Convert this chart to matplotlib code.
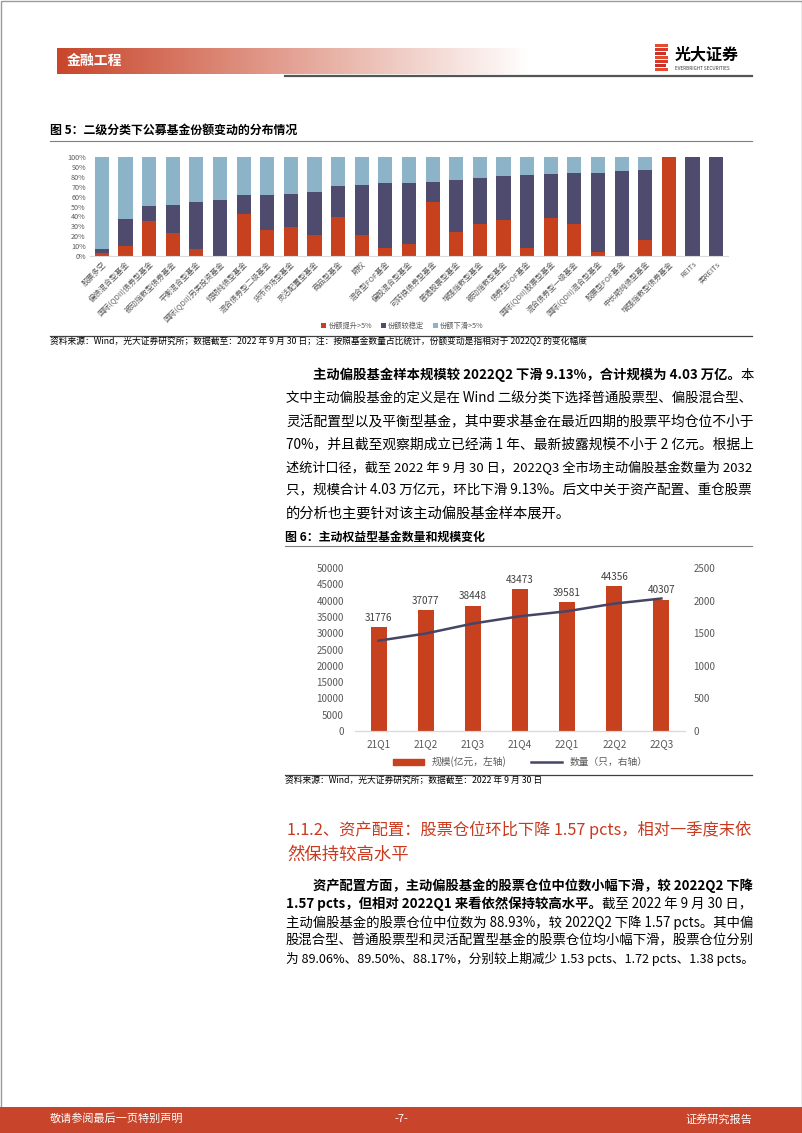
import numpy as np
import matplotlib
matplotlib.use("Agg")
import matplotlib.pyplot as plt
from matplotlib.patches import Rectangle
from matplotlib.lines import Line2D

plt.rcParams['font.family'] = ['Noto Sans CJK SC', 'DejaVu Sans']

# ---- data: figure 5 ----
cats5 = ["股票多空", "偏债混合型基金", "国际(QDII)债券型基金", "被动指数型债券基金", "平衡混合型基金",
         "国际(QDII)另类投资基金", "短期纯债型基金", "混合债券型二级基金", "货币市场型基金", "灵活配置型基金",
         "商品型基金", "期权", "混合型FOF基金", "偏股混合型基金", "可转换债券型基金", "普通股票型基金",
         "增强指数型基金", "被动指数型基金", "债券型FOF基金", "国际(QDII)股票型基金", "混合债券型一级基金",
         "国际(QDII)混合型基金", "股票型FOF基金", "中长期纯债型基金", "增强指数型债券基金", "REITs", "类REITs"]
up5 = [3.4, 10.5, 35, 23, 7, 0, 42, 26, 29, 21, 39, 21.5, 8.4, 12.5, 55, 24.7,
       32.4, 36, 8.4, 38.5, 32.4, 4, 0, 16, 100, 0, 0]
stable5 = [3.6, 27, 16, 29, 48, 57, 20, 36, 34, 43.5, 31.6, 50.5, 64.9, 61.5, 20, 52.3,
           46.3, 45, 73, 43.9, 51, 80, 85.5, 70.8, 0, 100, 100]
down5 = [93, 62.5, 49, 48, 45, 43, 38, 38, 37, 35.5, 29.4, 28, 26.7, 26, 25, 23,
         21.3, 19, 18.6, 17.6, 16.6, 16, 14.5, 13.2, 0, 0, 0]
leg5 = ["份额提升>5%", "份额较稳定", "份额下滑>5%"]

# ---- data: figure 6 ----
quarters = ["21Q1", "21Q2", "21Q3", "21Q4", "22Q1", "22Q2", "22Q3"]
scale6 = [31776, 37077, 38448, 43473, 39581, 44356, 40307]
count6 = [1385, 1495, 1648, 1760, 1837, 1954, 2032]

RED = "#C8411F"
NAVY = "#4F4B6E"
LIGHT = "#8DB3C9"
GREY = "#595959"

W, H = 802, 1133
fig = plt.figure(figsize=(W / 100, H / 100), dpi=100)
bg = fig.add_axes([0, 0, 1, 1])
bg.set_xlim(0, W); bg.set_ylim(H, 0); bg.axis("off")
r = fig.canvas.get_renderer()

def ax_px(x0, y0, x1, y1):
    return fig.add_axes([x0 / W, 1 - y1 / H, (x1 - x0) / W, (y1 - y0) / H])

def put_line(x0, y, segs, width=None, fs=10.3, color="black"):
    ts = [bg.text(x0, y, s, fontsize=fs, fontweight=w, color=color, va="center", ha="left")
          for s, w in segs]
    tot = sum(t.get_window_extent(r).width for t in ts)
    if width:
        for t in ts:
            t.set_fontsize(fs * width / tot)
    x = x0
    for t in ts:
        t.set_x(x)
        x += t.get_window_extent(r).width

# page frame
bg.add_patch(Rectangle((0.5, 0.5), W - 1, H - 1, fill=False, ec="#9A9A9A", lw=1))

# header band with gradient
grad = np.ones((1, 256, 4))
c0 = np.array(matplotlib.colors.to_rgb("#C8462B"))
t = np.linspace(0, 1, 256)
grad[0, :, :3] = c0 * (1 - t)[:, None] + t[:, None]
grad[0, :, 3] = 1
bg.imshow(grad, extent=[57, 530, 74, 48], aspect="auto", zorder=1)
bg.set_xlim(0, W); bg.set_ylim(H, 0)
bg.text(67, 61, "金融工程", fontsize=10, color="white", fontweight="bold", va="center")
bg.plot([285, 752], [76, 76], color="#555555", lw=1.6)
# logo
for i, (yy, ww) in enumerate([(44, 13), (48, 13), (52, 11), (56, 13), (60, 13), (64, 11), (68, 13)]):
    bg.add_patch(Rectangle((655, yy), ww, 3.2, color=["#E84A2E", "#D93A2A", "#C9302A"][i % 3], lw=0))
bg.text(675, 54, "光大证券", fontsize=11.5, fontweight="bold", va="center")
bg.text(675, 68, "EVERBRIGHT SECURITIES", fontsize=3.3, va="center", color="#333333")

# ---- Figure 5 ----
bg.text(50, 130, "图 5：二级分类下公募基金份额变动的分布情况", fontsize=8.6, fontweight="bold", va="center")
bg.plot([50, 752], [141, 141], color="#7F7F7F", lw=0.8)
ax1 = ax_px(90, 157, 728, 256)
x = np.arange(len(cats5))
up = np.array(up5); st = np.array(stable5); dn = np.array(down5)
ax1.bar(x, up, 0.6, color=RED, label=leg5[0])
ax1.bar(x, st, 0.6, bottom=up, color=NAVY, label=leg5[1])
ax1.bar(x, dn, 0.6, bottom=up + st, color=LIGHT, label=leg5[2])
ax1.set_xlim(-0.5, len(cats5) - 0.5)
ax1.set_ylim(0, 100)
ax1.set_yticks(np.arange(0, 101, 10))
ax1.set_yticklabels([f"{v}%" for v in range(0, 101, 10)], fontsize=5.2, color=GREY)
ax1.set_xticks(x)
ax1.set_xticklabels(cats5, rotation=45, ha="right", rotation_mode="anchor", fontsize=5.5, color=GREY)
ax1.tick_params(length=0, pad=3)
for s in ["top", "right", "left"]:
    ax1.spines[s].set_visible(False)
ax1.spines["bottom"].set_color("#D9D9D9")
ax1.legend(loc="center", bbox_to_anchor=(0.49, -0.71), ncol=3, fontsize=5.2, frameon=False,
           handlelength=0.7, handleheight=0.7, handletextpad=0.3, columnspacing=1.2, labelcolor=GREY)
bg.plot([50, 752], [336, 336], color="#404040", lw=0.9)
bg.text(50, 341, "资料来源：Wind，光大证券研究所；数据截至：2022 年 9 月 30 日；注：按照基金数量占比统计，份额变动是指相对于 2022Q2 的变化幅度",
        fontsize=6.3, va="center")

# ---- paragraph 1 ----
R = 752
p1 = [
    (313, [("主动偏股基金样本规模较 2022Q2 下滑 9.13%，合计规模为 4.03 万亿。", "bold"), ("本", "normal")], True),
    (286, [("文中主动偏股基金的定义是在 Wind 二级分类下选择普通股票型、偏股混合型、", "normal")], True),
    (286, [("灵活配置型以及平衡型基金，其中要求基金在最近四期的股票平均仓位不小于", "normal")], True),
    (286, [("70%，并且截至观察期成立已经满 1 年、最新披露规模不小于 2 亿元。根据上", "normal")], True),
    (286, [("述统计口径，截至 2022 年 9 月 30 日，2022Q3 全市场主动偏股基金数量为 2032", "normal")], True),
    (286, [("只，规模合计 4.03 万亿元，环比下滑 9.13%。后文中关于资产配置、重仓股票", "normal")], True),
    (286, [("的分析也主要针对该主动偏股基金样本展开。", "normal")], False),
]
for i, (x0, segs, just) in enumerate(p1):
    put_line(x0, 375 + i * 23.1, segs, width=(R - x0) if just else None)

# ---- Figure 6 ----
bg.text(285, 537, "图 6：主动权益型基金数量和规模变化", fontsize=8.6, fontweight="bold", va="center")
bg.plot([285, 752], [546, 546], color="#7F7F7F", lw=0.8)
ax2 = ax_px(355, 568, 685, 731)
xq = np.arange(len(quarters))
ax2.bar(xq, scale6, 0.34, color=RED, label="规模(亿元，左轴)")
for xi, v in zip(xq, scale6):
    ax2.text(xi, v + 1300, str(v), ha="center", va="bottom", fontsize=7.2, color="#404040")
ax2.set_xlim(-0.5, len(quarters) - 0.5)
ax2.set_ylim(0, 50000)
ax2.set_yticks(np.arange(0, 50001, 5000))
ax2.tick_params(axis="y", labelsize=7, labelcolor=GREY, length=0, pad=8)
ax2.set_xticks(xq)
ax2.set_xticklabels(quarters, fontsize=7.2, color=GREY)
ax2.tick_params(axis="x", length=0, pad=6)
axr = ax2.twinx()
axr.plot(xq, count6, color="#454566", lw=1.8, label="数量（只，右轴）")
axr.set_ylim(0, 2500)
axr.set_yticks(np.arange(0, 2501, 500))
axr.tick_params(axis="y", labelsize=7, labelcolor=GREY, length=0, pad=6)
for a in (ax2, axr):
    for s in ["top", "right", "left"]:
        a.spines[s].set_visible(False)
    a.spines["bottom"].set_color("#D9D9D9")
h = [Rectangle((0, 0), 1, 1, color=RED), Line2D([0], [0], color="#454566", lw=1.8)]
ax2.legend(h, ["规模(亿元，左轴)", "数量（只，右轴）"], loc="center", bbox_to_anchor=(0.5, -0.19),
           ncol=2, fontsize=7, frameon=False, handlelength=3.2, handleheight=0.6,
           columnspacing=2.5, labelcolor=GREY)
bg.plot([285, 752], [775, 775], color="#404040", lw=0.9)
bg.text(285, 781, "资料来源：Wind，光大证券研究所；数据截至：2022 年 9 月 30 日", fontsize=6.3, va="center")

# ---- section heading ----
HRED = "#C8391E"
put_line(287, 830, [("1.1.2、资产配置：股票仓位环比下降 1.57 pcts，相对一季度末依", "normal")],
         width=R - 287, fs=12.5, color=HRED)
put_line(287, 855, [("然保持较高水平", "normal")], fs=12.5, color=HRED)

# ---- paragraph 2 ----
p2 = [
    (313, [("资产配置方面，主动偏股基金的股票仓位中位数小幅下滑，较 2022Q2 下降", "bold")], True),
    (286, [("1.57 pcts，但相对 2022Q1 来看依然保持较高水平。", "bold"), ("截至 2022 年 9 月 30 日，", "normal")], True),
    (286, [("主动偏股基金的股票仓位中位数为 88.93%，较 2022Q2 下降 1.57 pcts。其中偏", "normal")], True),
    (286, [("股混合型、普通股票型和灵活配置型基金的股票仓位均小幅下滑，股票仓位分别", "normal")], True),
    (286, [("为 89.06%、89.50%、88.17%，分别较上期减少 1.53 pcts、1.72 pcts、1.38 pcts。", "normal")], True),
]
for i, (x0, segs, just) in enumerate(p2):
    put_line(x0, 886 + i * 18.2, segs, width=(R - x0) if just else None)

# ---- footer ----
bg.add_patch(Rectangle((0, 1107), W, H - 1107, color="#C8442A", lw=0))
bg.text(50, 1119, "敬请参阅最后一页特别声明", fontsize=8, color="white", va="center")
bg.text(401, 1119, "-7-", fontsize=8, color="white", va="center", ha="center")
bg.text(752, 1119, "证券研究报告", fontsize=8, color="white", va="center", ha="right")

fig.savefig("out.png", dpi=100)
